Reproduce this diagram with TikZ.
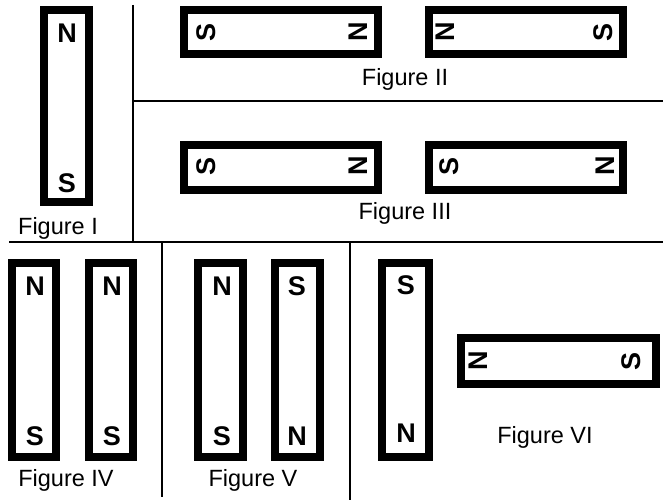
\documentclass[tikz,border=0pt]{standalone}
\usepackage{fontspec}
\setmainfont{Liberation Sans}
\begin{document}
\begin{tikzpicture}[x=1pt,y=-1pt,
  magnet/.style={draw=black,line width=8pt,rectangle,inner sep=0pt,outer sep=0pt},
  vmag/.style={magnet,minimum width=45pt,minimum height=194pt},
  hmag/.style={magnet,minimum width=194pt,minimum height=45pt},
  pole/.style={inner sep=0pt,font=\fontsize{27}{30}\selectfont\bfseries},
  hpole/.style={pole,rotate=90},
  figlabel/.style={inner sep=0pt,font=\fontsize{23.5}{28}\selectfont},
  divider/.style={line width=2pt,black}]
\useasboundingbox (0,0) rectangle (665,500);
% Figure I
\node[vmag,minimum height=192pt] (m1) at (66.5,106) {};
\node[pole] (m1n) at (67,33) {N};
\node[pole] (m1s) at (67,183) {S};
\node[figlabel] (l1) at (58,228) {Figure I};
% Figure II
\node[hmag,minimum height=44pt] (m2a) at (281,32) {};
\node[hpole] (m2as) at (206,32) {S};
\node[hpole] (m2an) at (358,32) {N};
\node[hmag,minimum height=44pt] (m2b) at (526,32) {};
\node[hpole] (m2bn) at (445,32) {N};
\node[hpole] (m2bs) at (603,32) {S};
\node[figlabel] (l2) at (405,79) {Figure II};
% Figure III
\node[hmag] (m3a) at (281,167.5) {};
\node[hpole] (m3as) at (206,166) {S};
\node[hpole] (m3an) at (358,166) {N};
\node[hmag] (m3b) at (526,167.5) {};
\node[hpole] (m3bs) at (449,166) {S};
\node[hpole] (m3bn) at (605,166) {N};
\node[figlabel] (l3) at (405,213) {Figure III};
% Figure IV
\node[vmag,minimum width=44pt] (m4a) at (34,360) {};
\node[pole] (m4an) at (35,286) {N};
\node[pole] (m4as) at (35,436) {S};
\node[vmag,minimum width=44pt] (m4b) at (111,360) {};
\node[pole] (m4bn) at (112,286) {N};
\node[pole] (m4bs) at (112,436) {S};
\node[figlabel] (l4) at (66,480) {Figure IV};
% Figure V
\node[vmag] (m5a) at (220.5,360) {};
\node[pole] (m5an) at (222,286) {N};
\node[pole] (m5as) at (222,436) {S};
\node[vmag] (m5b) at (297,360) {};
\node[pole] (m5bs) at (297,286) {S};
\node[pole] (m5bn) at (297,436) {N};
\node[figlabel] (l5) at (253,480) {Figure V};
% Figure VI
\node[vmag,minimum width=47pt] (m6a) at (405.5,360) {};
\node[pole] (m6as) at (406,285) {S};
\node[pole] (m6an) at (406,433) {N};
\node[hmag,minimum width=195pt,minimum height=46pt] (m6b) at (558.5,361) {};
\node[hpole] (m6bn) at (478,361) {N};
\node[hpole] (m6bs) at (631,361) {S};
\node[figlabel] (l6) at (545,437) {Figure VI};
% dividers
\coordinate (v1t) at (133,5);
\coordinate (v1b) at (133,242.5);
\coordinate (h1l) at (133,101);
\coordinate (h1r) at (663,101);
\coordinate (h2l) at (9,242.5);
\coordinate (h2r) at (663,242.5);
\coordinate (v2t) at (162,242.5);
\coordinate (v2b) at (162,497);
\coordinate (v3t) at (350,242.5);
\coordinate (v3b) at (350,500);
\draw[divider] (v1t) -- (v1b);
\draw[divider] (h1l) -- (h1r);
\draw[divider] (h2l) -- (h2r);
\draw[divider] (v2t) -- (v2b);
\draw[divider] (v3t) -- (v3b);
\end{tikzpicture}
\end{document}
